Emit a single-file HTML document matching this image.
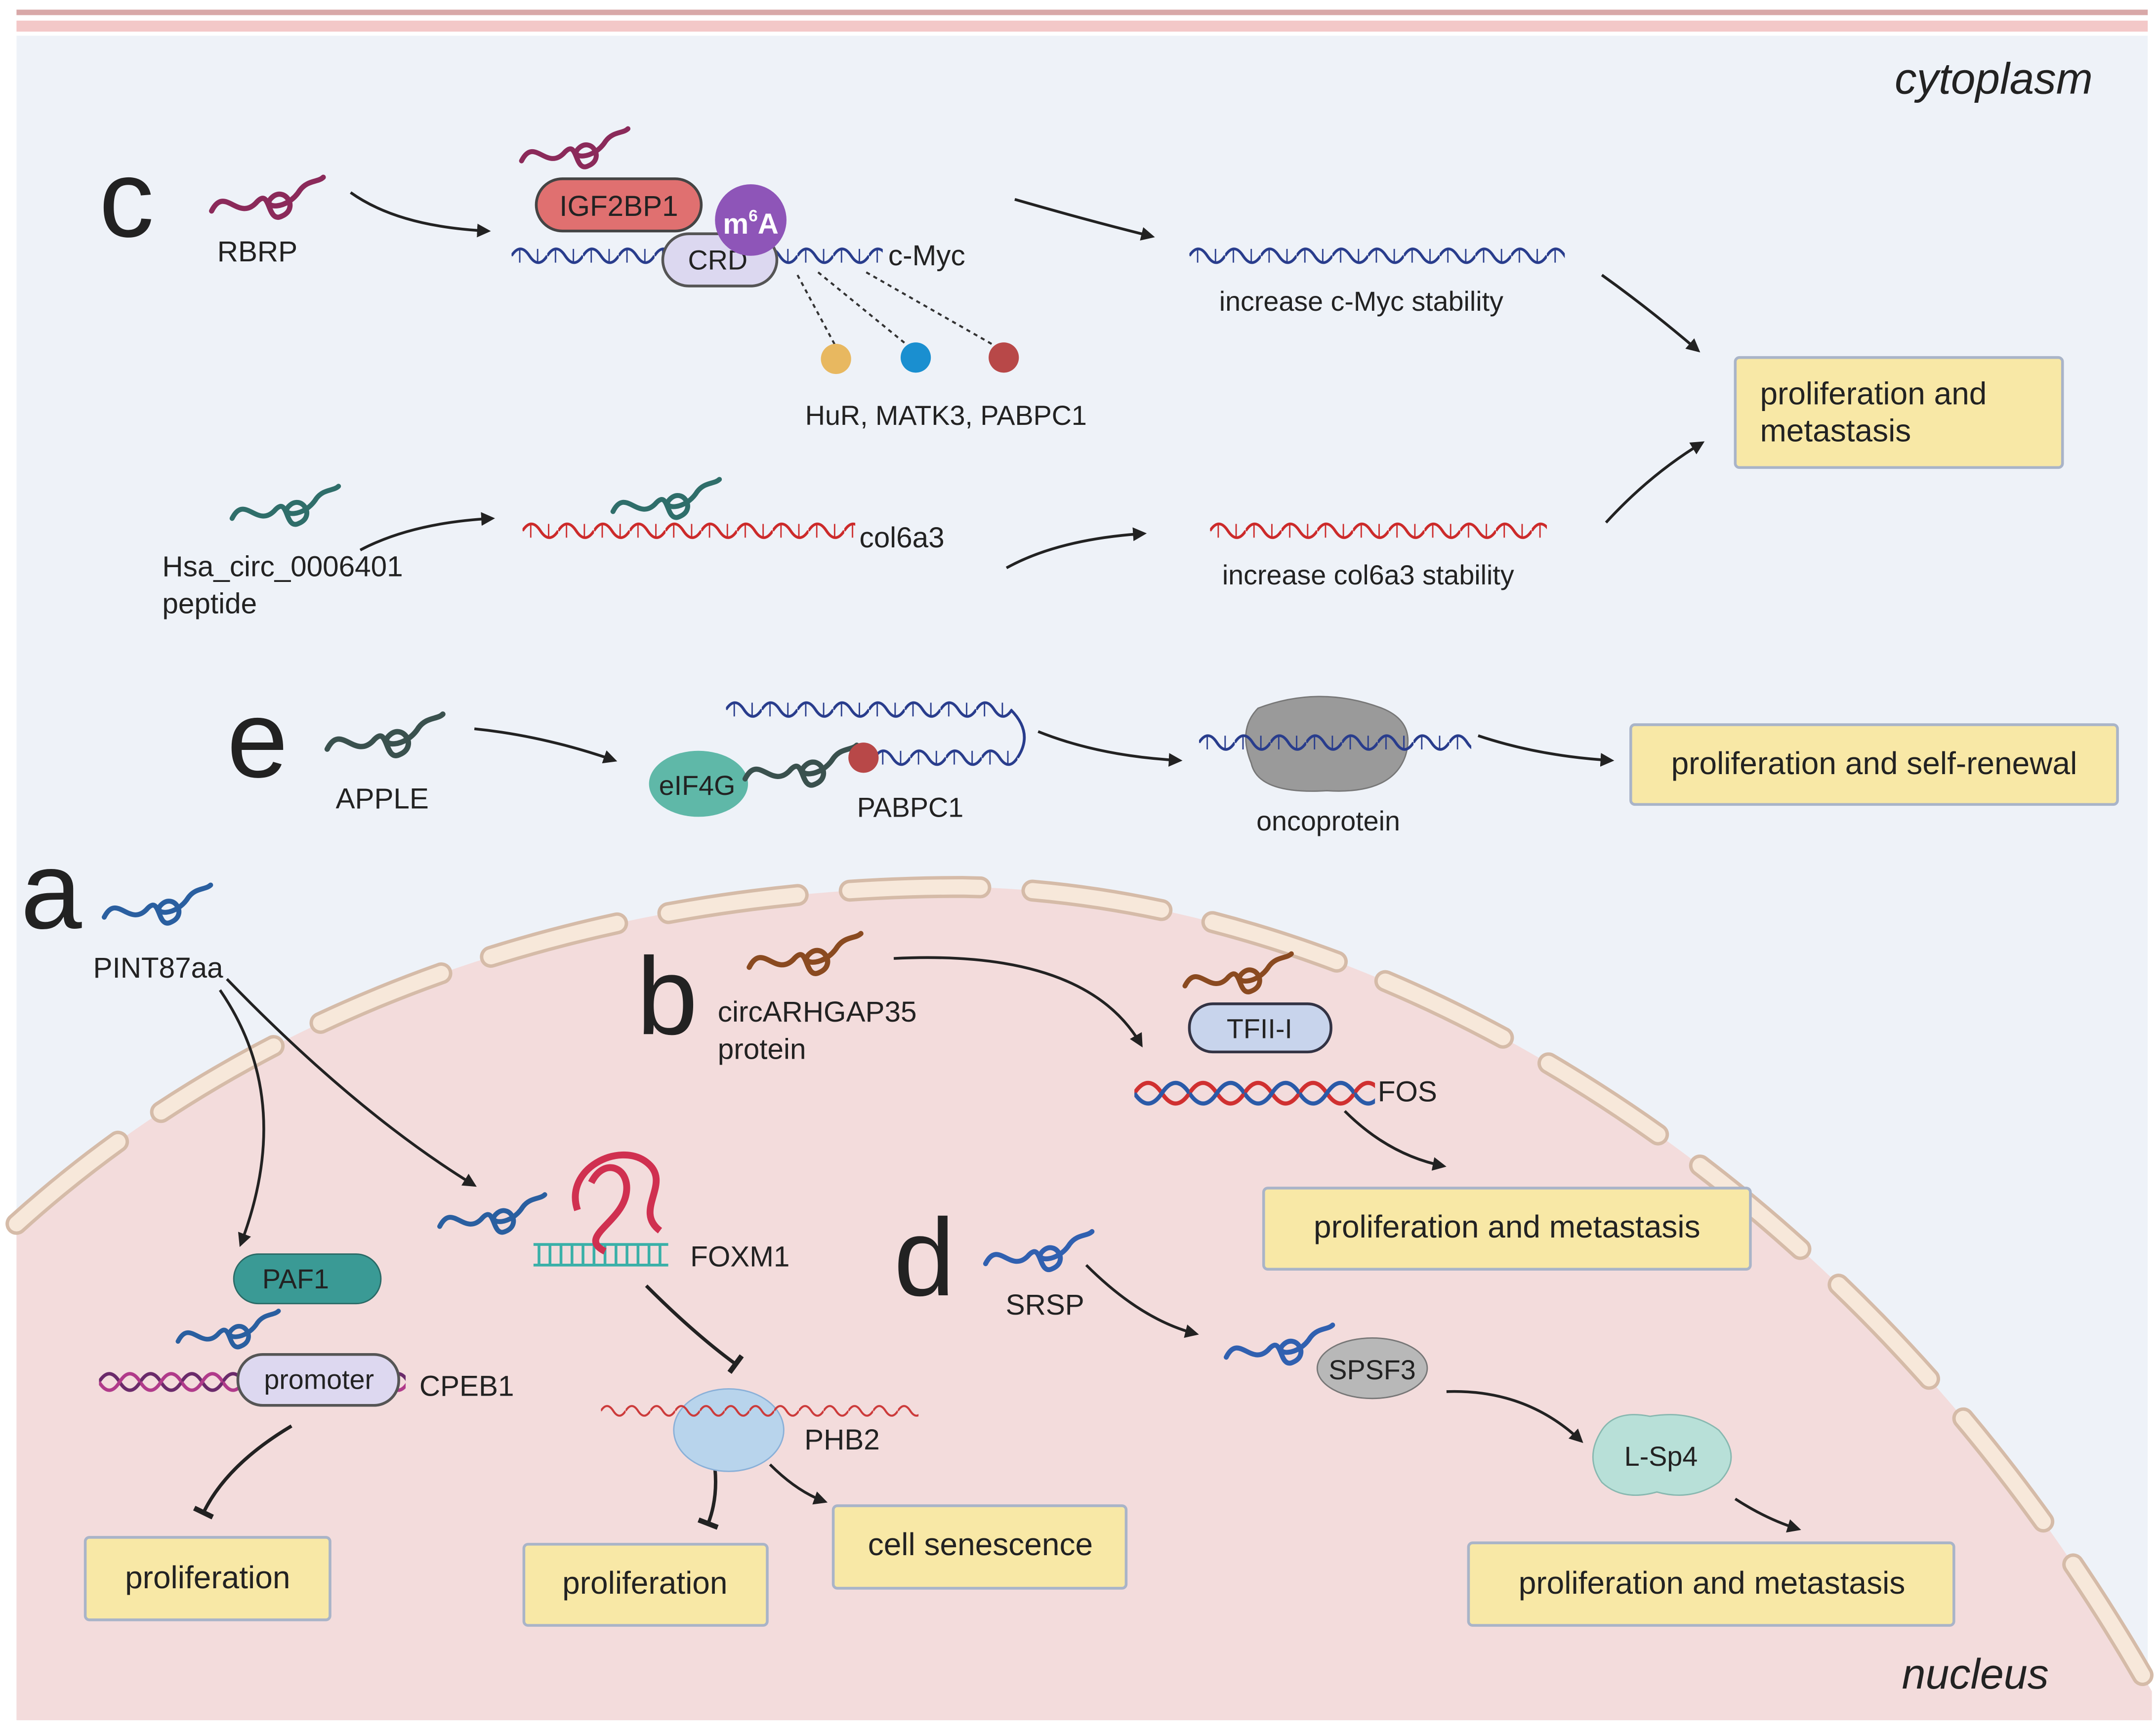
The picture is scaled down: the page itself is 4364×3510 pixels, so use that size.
<!DOCTYPE html>
<html><head><meta charset="utf-8"><style>
html,body{margin:0;padding:0;background:#fff;}
svg{display:block;}
text{font-family:"Liberation Sans",sans-serif;fill:#222;}
</style></head><body>
<svg width="4364" height="3510" viewBox="0 0 1568 1261" preserveAspectRatio="none" xmlns="http://www.w3.org/2000/svg">
<defs>
<marker id="ah" viewBox="0 0 10 10" refX="8" refY="5" markerWidth="5" markerHeight="5" orient="auto"><path d="M0 0L10 5L0 10z" fill="#222"/></marker>
<marker id="tb" viewBox="0 0 10 10" refX="5" refY="5" markerWidth="6" markerHeight="6" orient="auto"><path d="M5 0L5 10" stroke="#222" stroke-width="2.5"/></marker>
<pattern id="wn" width="26" height="20" patternUnits="userSpaceOnUse"><path d="M0 10Q6.5 0 13 10T26 10" fill="none" stroke="#283c8c" stroke-width="2"/><path d="M6 5v10M19 5v10" stroke="#283c8c" stroke-width="1"/></pattern>
<pattern id="wr" width="26" height="20" patternUnits="userSpaceOnUse"><path d="M0 10Q6.5 0 13 10T26 10" fill="none" stroke="#cc2a2a" stroke-width="2"/><path d="M6 5v10M19 5v10" stroke="#cc2a2a" stroke-width="1"/></pattern>
<pattern id="wt" width="18" height="20" patternUnits="userSpaceOnUse"><path d="M0 10Q4.5 3 9 10T18 10" fill="none" stroke="#cc3a3a" stroke-width="1.5"/></pattern>
<pattern id="dp" width="30" height="24" patternUnits="userSpaceOnUse"><path d="M0 12Q7.5 0 15 12T30 12" fill="none" stroke="#6a2a6a" stroke-width="2.5"/><path d="M0 12Q7.5 24 15 12T30 12" fill="none" stroke="#b03a8a" stroke-width="2.5"/></pattern>
<pattern id="dh" width="40" height="30" patternUnits="userSpaceOnUse"><path d="M0 15Q10 0 20 15T40 15" fill="none" stroke="#d03030" stroke-width="3"/><path d="M0 15Q10 30 20 15T40 15" fill="none" stroke="#2a5aa8" stroke-width="3"/></pattern>
<symbol id="sq" viewBox="0 0 90 40" overflow="visible"><path d="M2 30C12 10 22 38 36 24C48 10 44 40 56 34C70 28 58 10 48 20C40 28 60 30 70 14C76 6 84 8 88 4" fill="none" stroke="currentColor" stroke-width="4" stroke-linecap="round"/></symbol>
</defs>
<rect x="0" y="0" width="1568" height="1261" fill="#fff"/>
<rect x="12" y="26" width="1550" height="1225" fill="#eef2f8"/>
<line x1="12" y1="9" x2="1562" y2="9" stroke="#d8a8a8" stroke-width="4"/>
<line x1="12" y1="19" x2="1562" y2="19" stroke="#f3c8c8" stroke-width="8"/>
<path d="M12 890C200 720 450 645 700 645C1000 650 1350 850 1565 1230L1565 1251L12 1251Z" fill="#f3dcdc"/>
<path d="M12 890C200 720 450 645 700 645C1000 650 1350 850 1565 1230" fill="none" stroke="#d5bba8" stroke-width="16" stroke-dasharray="95 38" stroke-linecap="round"/>
<path d="M12 890C200 720 450 645 700 645C1000 650 1350 850 1565 1230" fill="none" stroke="#f7e8da" stroke-width="11" stroke-dasharray="95 38" stroke-linecap="round"/>
<text x="1522" y="68" font-size="32" font-style="italic" text-anchor="end">cytoplasm</text>
<text x="1490" y="1228" font-size="31" font-style="italic" text-anchor="end">nucleus</text>
<g font-size="80"><text x="72" y="172">c</text><text x="165" y="565">e</text><text x="15" y="675">a</text><text x="463" y="752">b</text><text x="650" y="942">d</text></g>
<g fill="none" stroke="#222" stroke-width="2" marker-end="url(#ah)">
<path d="M255 140Q290 165 355 168"/><path d="M738 145Q790 160 838 172"/><path d="M1165 200Q1200 225 1235 255"/><path d="M1168 380Q1200 345 1238 322"/>
<path d="M262 400Q300 380 358 377"/><path d="M732 413Q770 392 832 388"/><path d="M345 530Q395 535 447 553"/><path d="M755 532Q800 550 858 553"/><path d="M1075 535Q1120 550 1172 553"/>
<path d="M160 720Q215 800 175 905"/><path d="M165 712Q260 810 345 862"/><path d="M560 1065Q580 1085 600 1092"/>
<path d="M650 697Q790 690 830 760"/><path d="M978 808Q1010 840 1050 848"/><path d="M790 920Q830 960 870 970"/><path d="M1052 1012Q1110 1010 1150 1048"/><path d="M1262 1090Q1285 1105 1308 1112"/>
</g>
<g fill="none" stroke="#222" stroke-width="2.5" marker-end="url(#tb)">
<path d="M212 1037Q165 1065 148 1100"/><path d="M470 935Q505 970 535 992"/><path d="M520 1068Q522 1090 515 1108"/>
</g>
<use href="#sq" x="152" y="125" width="85" height="38" color="#8b2a5a"/>
<text x="158" y="190" font-size="21">RBRP</text>
<use href="#sq" x="376" y="90" width="84" height="36" color="#8b2a5a"/>
<g transform="translate(372,176)"><rect width="270" height="20" fill="url(#wn)"/></g>
<rect x="390" y="130" width="120" height="38" rx="19" fill="#e07070" stroke="#444" stroke-width="2"/>
<text x="450" y="157" font-size="21" text-anchor="middle">IGF2BP1</text>
<rect x="482" y="170" width="83" height="38" rx="19" fill="#dcd8f0" stroke="#555" stroke-width="2"/>
<text x="522" y="196" font-size="20" text-anchor="middle">CRD</text>
<circle cx="546" cy="160" r="26" fill="#8e55b8"/>
<text x="546" y="170" font-size="21" font-weight="bold" text-anchor="middle" style="fill:#fff">m<tspan font-size="12" dy="-9">6</tspan><tspan dy="9">A</tspan></text>
<text x="646" y="193" font-size="21">c-Myc</text>
<g stroke="#333" stroke-width="1.5" stroke-dasharray="3 3"><line x1="580" y1="200" x2="610" y2="256"/><line x1="595" y1="198" x2="666" y2="256"/><line x1="630" y1="198" x2="728" y2="254"/></g>
<circle cx="608" cy="261" r="11" fill="#e8b860"/><circle cx="666" cy="260" r="11" fill="#1a8fd0"/><circle cx="730" cy="260" r="11" fill="#b84848"/>
<text x="688" y="309" font-size="20" text-anchor="middle">HuR, MATK3, PABPC1</text>
<g transform="translate(865,176)"><rect width="273" height="20" fill="url(#wn)"/></g>
<text x="990" y="226" font-size="20" text-anchor="middle">increase c-Myc stability</text>
<rect x="1262" y="260" width="238" height="80" rx="3" fill="#f8e8a6" stroke="#a9b4c8" stroke-width="2"/>
<text x="1280" y="294" font-size="23">proliferation and</text><text x="1280" y="321" font-size="23">metastasis</text>
<use href="#sq" x="165" y="350" width="85" height="36" color="#2f6e6a"/>
<text x="118" y="419" font-size="21">Hsa_circ_0006401</text><text x="118" y="446" font-size="21">peptide</text>
<g transform="translate(380,376)"><rect width="242" height="20" fill="url(#wr)"/></g>
<use href="#sq" x="442" y="345" width="85" height="36" color="#2f6e6a"/>
<text x="625" y="398" font-size="21">col6a3</text>
<g transform="translate(880,376)"><rect width="245" height="20" fill="url(#wr)"/></g>
<text x="995" y="425" font-size="20" text-anchor="middle">increase col6a3 stability</text>
<use href="#sq" x="236" y="515" width="88" height="40" color="#3a514e"/>
<text x="278" y="588" font-size="21" text-anchor="middle">APPLE</text>
<g transform="translate(528,506)"><rect width="208" height="20" fill="url(#wn)"/></g>
<g transform="translate(636,541)"><rect width="104" height="20" fill="url(#wn)"/></g>
<path d="M735 516Q752 533 740 551" fill="none" stroke="#283c8c" stroke-width="2"/>
<ellipse cx="508" cy="570" rx="36" ry="24" fill="#5fb8a8"/>
<text x="507" y="578" font-size="20" text-anchor="middle">eIF4G</text>
<use href="#sq" x="540" y="537" width="85" height="40" color="#3a514e"/>
<circle cx="628" cy="551" r="11" fill="#b84848"/>
<text x="662" y="594" font-size="20" text-anchor="middle">PABPC1</text>
<path d="M915 515Q960 498 1005 515Q1030 525 1022 550Q1012 578 965 575Q915 578 910 555Q900 530 915 515Z" fill="#9a9a9a" stroke="#777"/>
<g transform="translate(872,530)"><rect width="198" height="20" fill="url(#wn)"/></g>
<text x="966" y="604" font-size="20" text-anchor="middle">oncoprotein</text>
<rect x="1186" y="527" width="354" height="58" rx="3" fill="#f8e8a6" stroke="#a9b4c8" stroke-width="2"/>
<text x="1363" y="563" font-size="23" text-anchor="middle">proliferation and self-renewal</text>
<use href="#sq" x="72" y="640" width="85" height="36" color="#2a5fa0"/>
<text x="115" y="711" font-size="21" text-anchor="middle">PINT87aa</text>
<rect x="170" y="912" width="107" height="36" rx="18" fill="#3a9a95" stroke="#2a6a66"/>
<text x="215" y="937" font-size="20" text-anchor="middle">PAF1</text>
<use href="#sq" x="125" y="950" width="82" height="34" color="#2a5fa0"/>
<g transform="translate(72,993)"><rect width="223" height="24" fill="url(#dp)"/></g>
<rect x="173" y="985" width="117" height="37" rx="18" fill="#ddd8f0" stroke="#555" stroke-width="2"/>
<text x="232" y="1010" font-size="20" text-anchor="middle">promoter</text>
<text x="305" y="1015" font-size="21">CPEB1</text>
<rect x="62" y="1118" width="178" height="60" rx="3" fill="#f8e8a6" stroke="#a9b4c8" stroke-width="2"/>
<text x="151" y="1155" font-size="23" text-anchor="middle">proliferation</text>
<use href="#sq" x="318" y="865" width="80" height="36" color="#2a5fa0"/>
<g stroke="#3ab0a8" stroke-width="2"><line x1="388" y1="905" x2="486" y2="905"/><line x1="388" y1="920" x2="486" y2="920"/>
<path d="M392 905v15M400 905v15M408 905v15M416 905v15M424 905v15M432 905v15M440 905v15M448 905v15M456 905v15M464 905v15M472 905v15M480 905v15"/></g>
<path d="M420 880C410 850 450 830 470 845C490 860 460 880 480 895M430 860C440 840 460 850 455 870C450 890 420 900 440 910" fill="none" stroke="#d03050" stroke-width="5"/>
<text x="502" y="921" font-size="21">FOXM1</text>
<ellipse cx="530" cy="1040" rx="40" ry="30" fill="#b8d4ec" stroke="#8ab0d8"/>
<g transform="translate(437,1016)"><rect width="231" height="20" fill="url(#wt)"/></g>
<text x="585" y="1054" font-size="21">PHB2</text>
<rect x="381" y="1123" width="177" height="59" rx="3" fill="#f8e8a6" stroke="#a9b4c8" stroke-width="2"/>
<text x="469" y="1159" font-size="23" text-anchor="middle">proliferation</text>
<rect x="606" y="1095" width="213" height="60" rx="3" fill="#f8e8a6" stroke="#a9b4c8" stroke-width="2"/>
<text x="713" y="1131" font-size="23" text-anchor="middle">cell senescence</text>
<use href="#sq" x="543" y="675" width="85" height="38" color="#8a4a20"/>
<text x="522" y="743" font-size="21">circARHGAP35</text><text x="522" y="770" font-size="21">protein</text>
<use href="#sq" x="858" y="690" width="85" height="36" color="#8a4a20"/>
<g transform="translate(825,780)"><rect width="175" height="30" fill="url(#dh)"/></g>
<rect x="865" y="730" width="103" height="35" rx="17" fill="#c8d4ec" stroke="#334" stroke-width="2"/>
<text x="916" y="755" font-size="20" text-anchor="middle">TFII-I</text>
<text x="1002" y="801" font-size="21">FOS</text>
<rect x="919" y="864" width="354" height="59" rx="3" fill="#f8e8a6" stroke="#a9b4c8" stroke-width="2"/>
<text x="1096" y="900" font-size="23" text-anchor="middle">proliferation and metastasis</text>
<use href="#sq" x="713" y="892" width="85" height="36" color="#3060b0"/>
<text x="760" y="956" font-size="21" text-anchor="middle">SRSP</text>
<use href="#sq" x="888" y="960" width="85" height="36" color="#3060b0"/>
<ellipse cx="998" cy="995" rx="40" ry="22" fill="#b8b8b8" stroke="#777"/>
<text x="998" y="1003" font-size="20" text-anchor="middle">SPSF3</text>
<path d="M1165 1040Q1175 1025 1200 1030Q1230 1025 1250 1040Q1268 1060 1250 1078Q1230 1092 1205 1085Q1180 1092 1165 1078Q1152 1060 1165 1040Z" fill="#b8e0d8" stroke="#88b8b0"/>
<text x="1208" y="1066" font-size="20" text-anchor="middle">L-Sp4</text>
<rect x="1068" y="1122" width="353" height="60" rx="3" fill="#f8e8a6" stroke="#a9b4c8" stroke-width="2"/>
<text x="1245" y="1159" font-size="23" text-anchor="middle">proliferation and metastasis</text>
</svg>
</body></html>
